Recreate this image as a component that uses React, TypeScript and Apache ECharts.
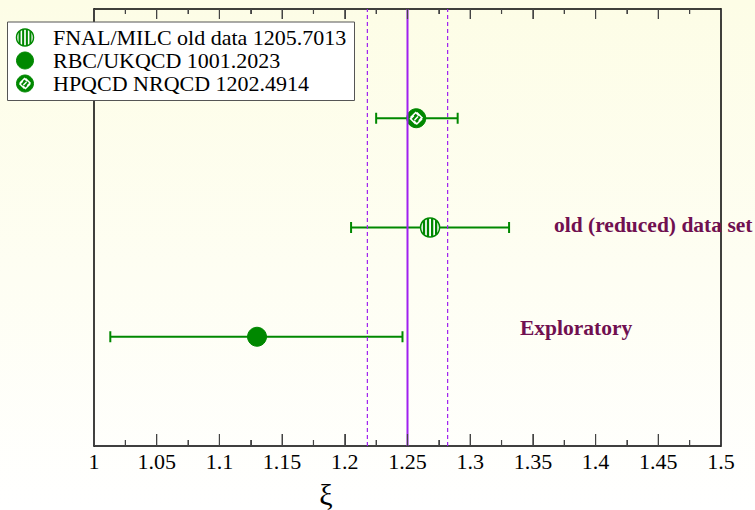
import React, { useEffect, useRef } from 'react';
import * as echarts from 'echarts';

// ---- data ----
const seriesNames = ['FNAL/MILC old data 1205.7013', 'RBC/UKQCD 1001.2023', 'HPQCD NRQCD 1202.4914'];
const markerKinds = ['striped', 'filled', 'hatched'];
const centralValues = [1.268, 1.13, 1.257];
const lowerBounds = [1.205, 1.013, 1.225];
const upperBounds = [1.331, 1.246, 1.29];
const rowPositions = [2, 1, 3];
const referenceValue = 1.25;
const referenceBand = [1.218, 1.282];
const annotationTexts = ['old (reduced) data set', 'Exploratory'];
const tickValues = [1, 1.05, 1.1, 1.15, 1.2, 1.25, 1.3, 1.35, 1.4, 1.45, 1.5];
const xMin = 1;
const xMax = 1.5;
const xStep = 0.05;
const axisTitle = 'ξ';

const GREEN = '#008800';
const PURPLE = '#a020f0';
const MAROON = '#701050';
const TICK = '#444';
const SERIF = '"Liberation Serif", "Times New Roman", serif';

function markerElements(kind: string, cx: number, cy: number, r: number, z: number = 0): any[] {
  let els: any[];
  if (kind === 'filled') {
    els = [{ type: 'circle', shape: { cx, cy, r }, style: { fill: GREEN, stroke: GREEN, lineWidth: 1 } }];
  } else if (kind === 'striped') {
    els = [{ type: 'circle', shape: { cx, cy, r }, style: { fill: '#fff', stroke: GREEN, lineWidth: 1.5 } }];
    [-0.64, -0.22, 0.22, 0.64].forEach((f) => {
      const dx = f * r;
      const h = Math.sqrt(r * r - dx * dx);
      els.push({
        type: 'line',
        shape: { x1: cx + dx, y1: cy - h, x2: cx + dx, y2: cy + h },
        style: { stroke: GREEN, lineWidth: r * 0.24 },
      });
    });
  } else {
    const s = r * 0.6;
    const w = r * 0.17;
    const ws = { stroke: '#fff', lineWidth: w, fill: 'none' };
    els = [
      { type: 'circle', shape: { cx, cy, r }, style: { fill: GREEN, stroke: GREEN, lineWidth: 1 } },
      { type: 'polyline', shape: { points: [[cx - s, cy - s * 0.1], [cx - s * 0.1, cy - s], [cx + s * 0.45, cy - s * 0.45]] }, style: ws },
      { type: 'polyline', shape: { points: [[cx + s * 0.1, cy - s], [cx + s, cy - s * 0.1], [cx + s * 0.45, cy + s * 0.45]] }, style: ws },
      { type: 'polyline', shape: { points: [[cx + s, cy + s * 0.1], [cx + s * 0.1, cy + s], [cx - s * 0.45, cy + s * 0.45]] }, style: ws },
      { type: 'polyline', shape: { points: [[cx - s * 0.1, cy + s], [cx - s, cy + s * 0.1], [cx - s * 0.45, cy - s * 0.45]] }, style: ws },
      { type: 'line', shape: { x1: cx - s * 0.3, y1: cy + s * 0.3, x2: cx + s * 0.3, y2: cy - s * 0.3 }, style: ws },
    ];
  }
  if (z) els.forEach((e) => (e.z = z));
  return els;
}

function fmt(v: number) {
  return String(Number(v.toFixed(2)));
}

export default function App() {
  const ref = useRef<HTMLDivElement>(null);

  useEffect(() => {
    if (!ref.current) return;
    document.body.style.margin = '0';
    const chart = echarts.init(ref.current, null, { renderer: 'svg' });

    const dataSeries = seriesNames.map((name, i) => ({
      type: 'custom',
      name,
      xAxisIndex: 0,
      yAxisIndex: 0,
      z: 3,
      data: [[centralValues[i], lowerBounds[i], upperBounds[i], rowPositions[i]]],
      renderItem: (params: any, api: any) => {
        const x = api.value(0);
        const lo = api.value(1);
        const hi = api.value(2);
        const row = api.value(3);
        const p = api.coord([x, row]);
        const pl = api.coord([lo, row]);
        const ph = api.coord([hi, row]);
        const cap = 5.5;
        return {
          type: 'group',
          children: [
            { type: 'line', shape: { x1: pl[0], y1: pl[1], x2: ph[0], y2: ph[1] }, style: { stroke: GREEN, lineWidth: 2 } },
            { type: 'line', shape: { x1: pl[0], y1: pl[1] - cap, x2: pl[0], y2: pl[1] + cap }, style: { stroke: GREEN, lineWidth: 2 } },
            { type: 'line', shape: { x1: ph[0], y1: ph[1] - cap, x2: ph[0], y2: ph[1] + cap }, style: { stroke: GREEN, lineWidth: 2 } },
            ...markerElements(markerKinds[i], p[0], p[1], 9.5),
          ],
        };
      },
    }));

    const refLines = [
      [referenceValue, 0],
      [referenceBand[0], 1],
      [referenceBand[1], 1],
    ];

    const refSeries = {
      type: 'custom',
      name: 'reference',
      z: 5,
      silent: true,
      data: refLines,
      renderItem: (params: any, api: any) => {
        const v = api.value(0);
        const dashed = api.value(1) === 1;
        const b = api.coord([v, 0]);
        const t = api.coord([v, 4]);
        return {
          type: 'line',
          shape: { x1: b[0], y1: b[1], x2: t[0], y2: t[1] },
          style: dashed
            ? { stroke: PURPLE, lineWidth: 1.2, lineDash: [4, 3] }
            : { stroke: PURPLE, lineWidth: 2 },
        };
      },
    };

    // axis ticks (major at tick labels, minor halfway between)
    const tickData: number[][] = [];
    tickValues.forEach((v, i) => {
      tickData.push([v, 1]);
      if (i < tickValues.length - 1) tickData.push([(v + tickValues[i + 1]) / 2, 0]);
    });
    const tickSeries = {
      type: 'custom',
      name: 'ticks',
      z: 6,
      silent: true,
      data: tickData,
      renderItem: (params: any, api: any) => {
        const v = api.value(0);
        const major = api.value(1) === 1;
        const b = api.coord([v, 0]);
        const t = api.coord([v, 4]);
        const lb = major ? 12 : 6;
        const lt = major ? 10 : 5;
        return {
          type: 'group',
          children: [
            { type: 'line', shape: { x1: b[0], y1: b[1], x2: b[0], y2: b[1] - lb }, style: { stroke: TICK, lineWidth: 1.2 } },
            { type: 'line', shape: { x1: t[0], y1: t[1], x2: t[0], y2: t[1] + lt }, style: { stroke: TICK, lineWidth: 1.2 } },
          ],
        };
      },
    };

    const legendRows = [37.5, 60.5, 83.5];
    const legendGraphics: any[] = [
      {
        type: 'rect',
        shape: { x: 7.5, y: 22, width: 347, height: 78.5 },
        style: { fill: '#fff', stroke: '#555', lineWidth: 1 },
        z: 10,
      },
    ];
    seriesNames.forEach((name, i) => {
      markerElements(markerKinds[i], 25, legendRows[i], 8.5, 11).forEach((e) => legendGraphics.push(e));
      legendGraphics.push({
        type: 'text',
        x: 53,
        y: legendRows[i],
        z: 11,
        style: { text: name, font: `22px ${SERIF}`, fill: '#000', verticalAlign: 'middle', textAlign: 'left' },
      });
    });

    const option: any = {
      animation: false,
      backgroundColor: {
        type: 'linear',
        x: 0,
        y: 0,
        x2: 0,
        y2: 1,
        colorStops: [
          { offset: 0, color: '#fdfde6' },
          { offset: 0.55, color: '#fefef3' },
          { offset: 1, color: '#ffffff' },
        ],
      },
      grid: {
        left: 94,
        right: 34,
        top: 9,
        bottom: 64,
      },
      xAxis: [
        {
          type: 'value',
          min: xMin,
          max: xMax,
          interval: xStep,
          position: 'bottom',
          axisLine: { show: true, onZero: false, lineStyle: { color: '#000', width: 1.5 } },
          axisTick: { show: true, inside: true, length: 12, lineStyle: { color: TICK, width: 1 } },
          minorTick: { show: true, splitNumber: 2, length: 6, lineStyle: { color: TICK, width: 1 } },
          splitLine: { show: false },
          axisLabel: {
            show: true,
            color: '#000',
            fontFamily: SERIF,
            fontSize: 22,
            margin: 4,
            formatter: (v: number) => fmt(v),
          },
        },
        {
          type: 'value',
          min: xMin,
          max: xMax,
          interval: xStep,
          position: 'top',
          axisLine: { show: true, onZero: false, lineStyle: { color: '#000', width: 1.5 } },
          axisTick: { show: true, inside: true, length: 10, lineStyle: { color: TICK, width: 1 } },
          minorTick: { show: true, splitNumber: 2, length: 5, lineStyle: { color: TICK, width: 1 } },
          splitLine: { show: false },
          axisLabel: { show: false },
        },
      ],
      yAxis: [
        {
          type: 'value',
          min: 0,
          max: 4,
          position: 'left',
          axisLine: { show: true, onZero: false, lineStyle: { color: '#000', width: 1.5 } },
          axisTick: { show: false },
          axisLabel: { show: false },
          splitLine: { show: false },
        },
        {
          type: 'value',
          min: 0,
          max: 4,
          position: 'right',
          axisLine: { show: true, onZero: false, lineStyle: { color: '#000', width: 1.5 } },
          axisTick: { show: false },
          axisLabel: { show: false },
          splitLine: { show: false },
        },
      ],
      series: [...dataSeries, refSeries, tickSeries],
      graphic: [
        ...legendGraphics,
        {
          type: 'text',
          x: 554,
          y: 225,
          z: 12,
          style: { text: annotationTexts[0], font: `bold 21.5px ${SERIF}`, fill: MAROON, verticalAlign: 'middle' },
        },
        {
          type: 'text',
          x: 520,
          y: 328,
          z: 12,
          style: { text: annotationTexts[1], font: `bold 21.5px ${SERIF}`, fill: MAROON, verticalAlign: 'middle' },
        },
        {
          type: 'text',
          x: 326,
          y: 494,
          z: 12,
          style: { text: axisTitle, font: `30px ${SERIF}`, fill: '#000', verticalAlign: 'middle', textAlign: 'center' },
        },
      ],
    };

    chart.setOption(option);
    return () => chart.dispose();
  }, []);

  return <div ref={ref} style={{ width: 755, height: 510 }} />;
}
